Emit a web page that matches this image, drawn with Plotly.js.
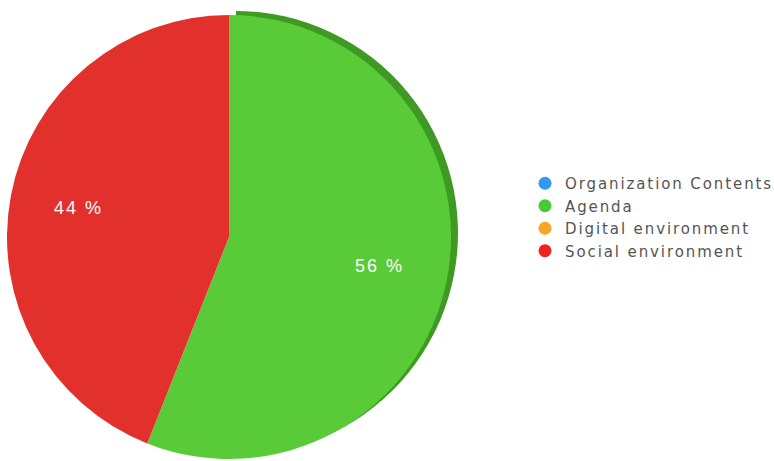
<!DOCTYPE html>
<html>
<head>
<meta charset="utf-8">
<script src="https://cdn.plot.ly/plotly-3.0.1.min.js"></script>
<style>
  html, body { margin: 0; padding: 0; background: #fff; }
  #chart { width: 774px; height: 461px; }
  .legendtext { letter-spacing: 1.9px; }
  .annotation-text { letter-spacing: 2px; }
</style>
</head>
<body>
<div id="chart"></div>
<script>
// ---- data ----
const categories = ['Organization Contents', 'Agenda', 'Digital environment', 'Social environment'];
const values = [0, 56, 0, 44];

// ---- styles ----
const sliceColors = ['#3399EE', '#5ACB38', '#F5A623', '#E2312D'];
const shadowColors = ['#2277BB', '#3E9A22', '#C88010', 'rgba(255,255,255,0)'];
const legendColors = ['#3399EE', '#44CC33', '#F5A623', '#EE2222'];

const W = 774, H = 461;
const cx = 229, cy = 237, r = 222;
const dom = (x0, x1, y0, y1) => ({ x: [x0 / W, x1 / W], y: [1 - y1 / H, 1 - y0 / H] });

const shadow = {
  type: 'pie',
  labels: categories,
  values: values,
  sort: false,
  direction: 'clockwise',
  rotation: 0,
  marker: { colors: shadowColors, line: { width: 0 } },
  textinfo: 'none',
  hoverinfo: 'skip',
  showlegend: false,
  domain: dom(cx - r + 7, cx + r + 7, cy - r - 4, cy + r - 4)
};

const pie = {
  type: 'pie',
  labels: categories,
  values: values,
  sort: false,
  direction: 'clockwise',
  rotation: 0,
  marker: { colors: sliceColors, line: { width: 0 } },
  textinfo: 'none',
  showlegend: false,
  domain: dom(cx - r, cx + r, cy - r, cy + r)
};

// percentage labels placed along each slice's middle angle
const total = values.reduce((a, b) => a + b, 0);
const annotations = [];
let cum = 0;
values.forEach((v, i) => {
  const start = cum;
  cum += v;
  if (v <= 0) return;
  const mid = ((start + v / 2) / total) * 2 * Math.PI;
  const rt = 0.69 * r;
  const px = cx + rt * Math.sin(mid);
  const py = cy - rt * Math.cos(mid);
  annotations.push({
    xref: 'paper', yref: 'paper',
    x: px / W, y: 1 - py / H,
    xanchor: 'center', yanchor: 'middle',
    showarrow: false,
    text: Math.round(v / total * 100) + ' %',
    font: { color: '#FFFFFF', size: 18, family: 'Liberation Sans, Arial, sans-serif' }
  });
});

const legendTraces = categories.map((c, i) => ({
  type: 'scatter',
  mode: 'markers',
  x: [null], y: [null],
  name: c,
  marker: { color: legendColors[i], size: 13, symbol: 'circle' },
  showlegend: true,
  hoverinfo: 'skip'
}));

const layout = {
  width: W, height: H,
  margin: { l: 0, r: 0, t: 0, b: 0, autoexpand: false },
  paper_bgcolor: '#FFFFFF',
  plot_bgcolor: 'rgba(0,0,0,0)',
  xaxis: { visible: false },
  yaxis: { visible: false },
  showlegend: true,
  annotations: annotations,
  legend: {
    x: 525 / W, xanchor: 'left',
    y: 1 - 217 / H, yanchor: 'middle',
    bgcolor: 'rgba(0,0,0,0)',
    font: { family: 'DejaVu Sans, sans-serif', size: 15, color: '#555555' },
    traceorder: 'normal'
  }
};

Plotly.newPlot('chart', [shadow, pie].concat(legendTraces), layout, { displayModeBar: false, staticPlot: true });
</script>
</body>
</html>
